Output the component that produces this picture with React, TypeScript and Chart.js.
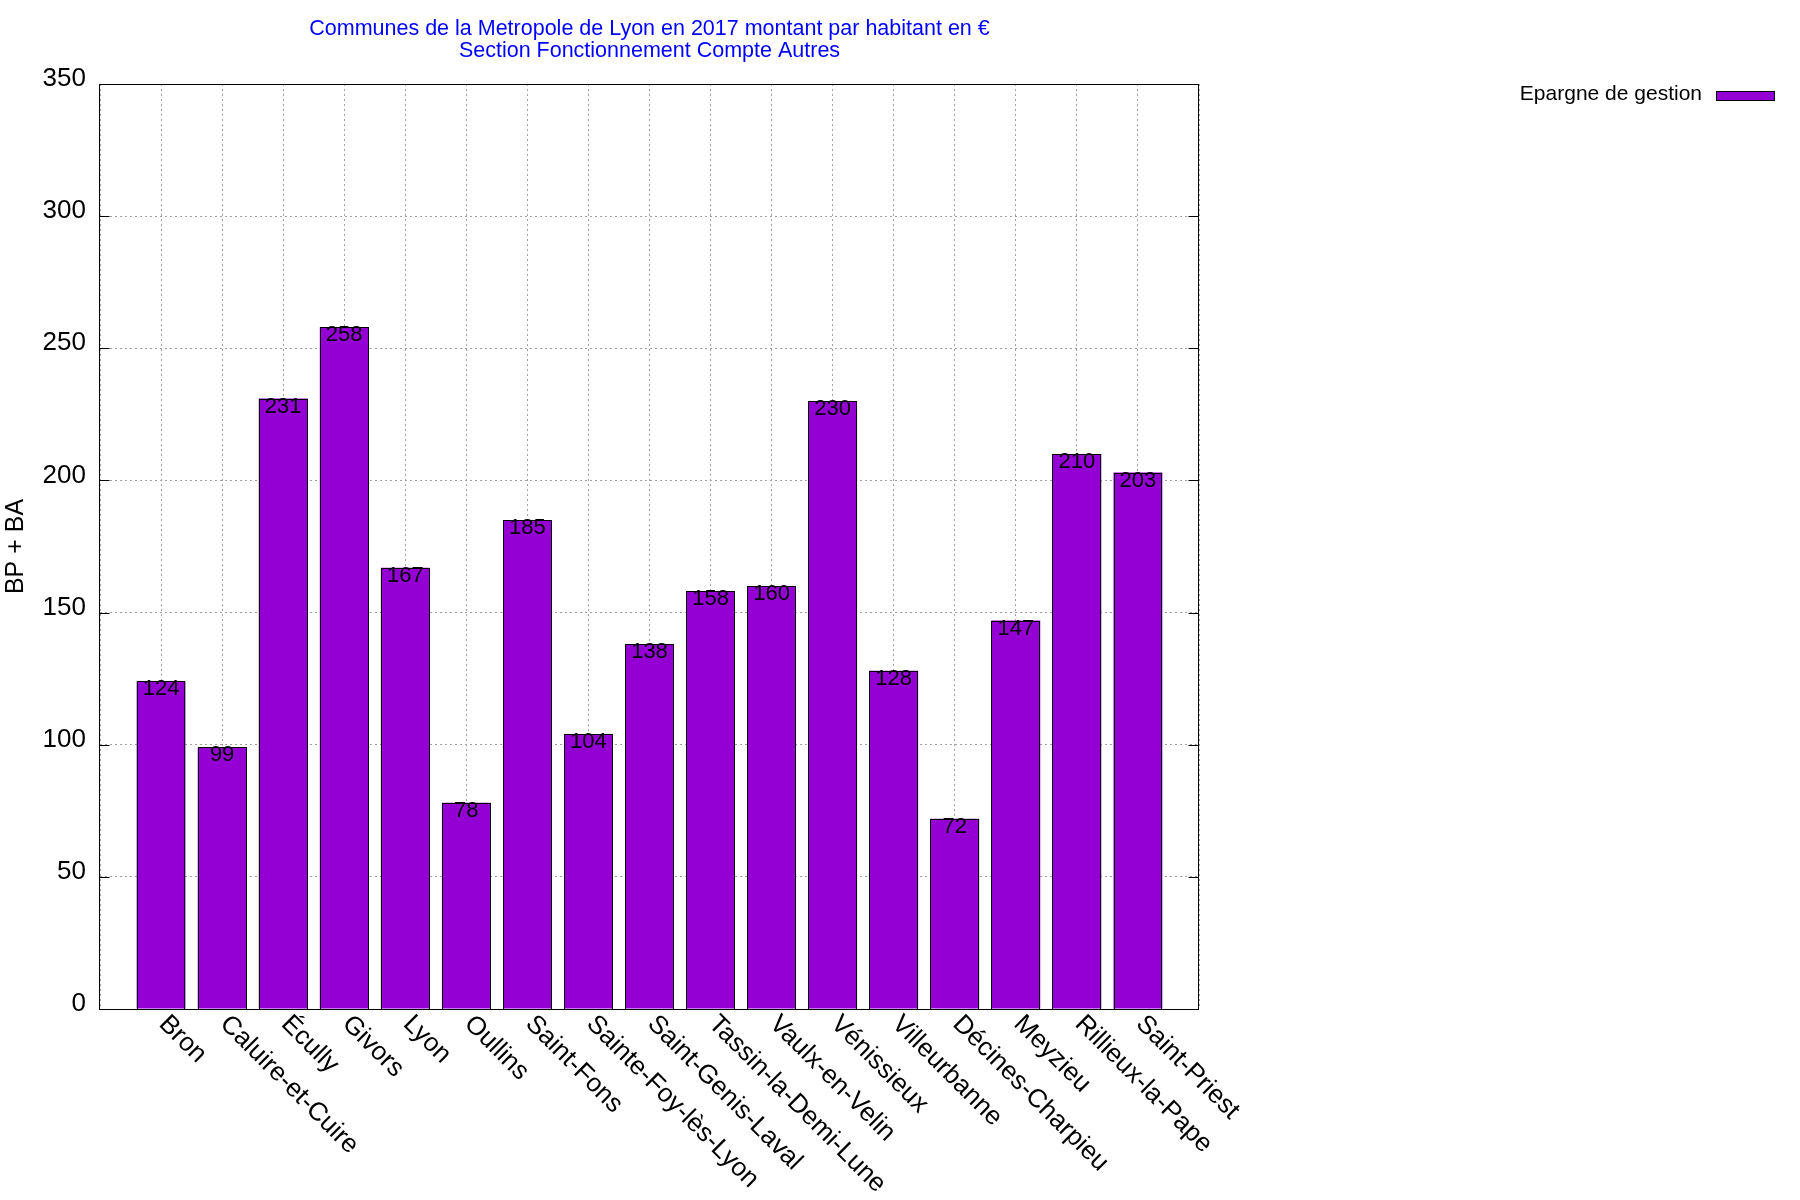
import React, { useEffect, useRef } from 'react';
import { Chart, registerables } from 'chart.js';

Chart.register(...registerables);

const titleLines = [
  'Communes de la Metropole de Lyon en 2017 montant par habitant en €',
  'Section Fonctionnement Compte Autres',
];
const seriesLabel = 'Epargne de gestion';
const yAxisTitle = 'BP + BA';
const categories = [
  'Bron',
  'Caluire-et-Cuire',
  'Écully',
  'Givors',
  'Lyon',
  'Oullins',
  'Saint-Fons',
  'Sainte-Foy-lès-Lyon',
  'Saint-Genis-Laval',
  'Tassin-la-Demi-Lune',
  'Vaulx-en-Velin',
  'Vénissieux',
  'Villeurbanne',
  'Décines-Charpieu',
  'Meyzieu',
  'Rillieux-la-Pape',
  'Saint-Priest',
];
const values = [124, 99, 231, 258, 167, 78, 185, 104, 138, 158, 160, 230, 128, 72, 147, 210, 203];
const yMin = 0;
const yMax = 350;
const yStep = 50;

const FONT = '"Liberation Sans", Arial, Helvetica, sans-serif';
const BAR_COLOR = '#9400d3';
const GRID_COLOR = '#a0a0a0';

const overlayPlugin = {
  id: 'overlay',
  afterDatasetsDraw(chart: any) {
    const { ctx, chartArea: a, scales } = chart;
    const ys = scales.y;
    const meta = chart.getDatasetMeta(0);
    ctx.save();
    // crisp black bar outlines
    ctx.strokeStyle = '#000';
    ctx.lineWidth = 1;
    ctx.setLineDash([]);
    values.forEach((_v, i) => {
      const el: any = meta.data[i + 1];
      if (!el) return;
      const l = Math.round(el.x - el.width / 2) + 0.5;
      const r = Math.round(el.x + el.width / 2) - 0.5;
      const t = Math.round(el.y) + 0.5;
      const b = Math.round(el.base) + 0.5;
      ctx.strokeRect(l, t, r - l, b - t);
    });
    // value labels
    ctx.font = `22px ${FONT}`;
    ctx.fillStyle = '#000';
    ctx.textAlign = 'center';
    ctx.textBaseline = 'alphabetic';
    values.forEach((v, i) => {
      const el = meta.data[i + 1];
      if (el) ctx.fillText(String(v), el.x, el.y + 14);
    });
    // frame
    const L = Math.round(a.left) - 0.5;
    const R = Math.round(a.right) - 0.5;
    const T = Math.round(a.top) + 0.5;
    const B = Math.round(a.bottom) + 0.5;
    ctx.strokeRect(L, T, R - L, B - T);
    // inward y tick marks
    ctx.beginPath();
    for (let v = yMin; v <= yMax; v += yStep) {
      const py = Math.round(ys.getPixelForValue(v)) + 0.5;
      ctx.moveTo(L, py);
      ctx.lineTo(L + 10, py);
      ctx.moveTo(R, py);
      ctx.lineTo(R - 10, py);
    }
    ctx.stroke();
    ctx.restore();
  },
  afterDraw(chart: any) {
    const { ctx, chartArea: a, scales } = chart;
    const xs = scales.x;
    ctx.save();
    // rotated category labels
    ctx.font = `26px ${FONT}`;
    ctx.fillStyle = '#000';
    ctx.textAlign = 'left';
    ctx.textBaseline = 'alphabetic';
    categories.forEach((c, i) => {
      const px = xs.getPixelForValue(i + 1);
      ctx.save();
      ctx.translate(px - 3, a.bottom + 16);
      ctx.rotate(Math.PI / 4);
      ctx.fillText(c, 0, 0);
      ctx.restore();
    });
    // legend (text then key box)
    const ds = chart.data.datasets[0];
    ctx.font = `21px ${FONT}`;
    ctx.textAlign = 'right';
    ctx.fillText(ds.label, 1702, 99.5);
    ctx.fillStyle = ds.backgroundColor;
    ctx.fillRect(1716, 91, 59, 10);
    ctx.strokeStyle = '#000';
    ctx.lineWidth = 1;
    ctx.strokeRect(1716.5, 91.5, 58, 9);
    ctx.restore();
  },
};

export default function App() {
  const ref = useRef<HTMLCanvasElement>(null);

  useEffect(() => {
    document.body.style.margin = '0';
    const labels = ['', ...categories, ''];
    const data = [null, ...values, null];
    const chart = new Chart(ref.current as HTMLCanvasElement, {
      type: 'bar',
      data: {
        labels,
        datasets: [
          {
            label: seriesLabel,
            data,
            backgroundColor: BAR_COLOR,
            borderWidth: 0,
            barPercentage: 0.8,
            categoryPercentage: 1.0,
          } as any,
        ],
      },
      options: {
        animation: false,
        responsive: false,
        devicePixelRatio: 1,
        layout: { padding: { left: 0, right: 601, top: 0, bottom: 191 } },
        plugins: {
          legend: { display: false },
          tooltip: { enabled: false },
          title: {
            display: true,
            fullSize: false,
            text: titleLines,
            color: '#0000ff',
            font: { family: FONT, size: 21.5, weight: 'normal', lineHeight: 0.98 },
            padding: { top: 19, bottom: 22.9 },
          },
        },
        scales: {
          x: {
            type: 'category',
            offset: false,
            grid: {
              offset: false,
              color: GRID_COLOR,
              lineWidth: 1,
              drawTicks: false,
            },
            border: { display: false, dash: [2, 3] },
            ticks: { display: false },
          },
          y: {
            min: yMin,
            max: yMax,
            afterFit: (scale: any) => {
              scale.width = 100;
            },
            grid: { color: GRID_COLOR, lineWidth: 1, drawTicks: false },
            border: { display: false, dash: [2, 3] },
            ticks: {
              stepSize: yStep,
              color: '#000',
              padding: 14,
              labelOffset: -5,
              font: { family: FONT, size: 26 },
            },
            title: {
              display: true,
              text: yAxisTitle,
              color: '#000',
              font: { family: FONT, size: 25, lineHeight: 1.25 },
              padding: { top: 0, bottom: 0 },
            },
          },
        },
      },
      plugins: [overlayPlugin],
    });
    return () => chart.destroy();
  }, []);

  return (
    <div style={{ width: 1800, height: 1200, background: '#fff' }}>
      <canvas ref={ref} width={1800} height={1200} style={{ width: 1800, height: 1200, display: 'block' }} />
    </div>
  );
}
